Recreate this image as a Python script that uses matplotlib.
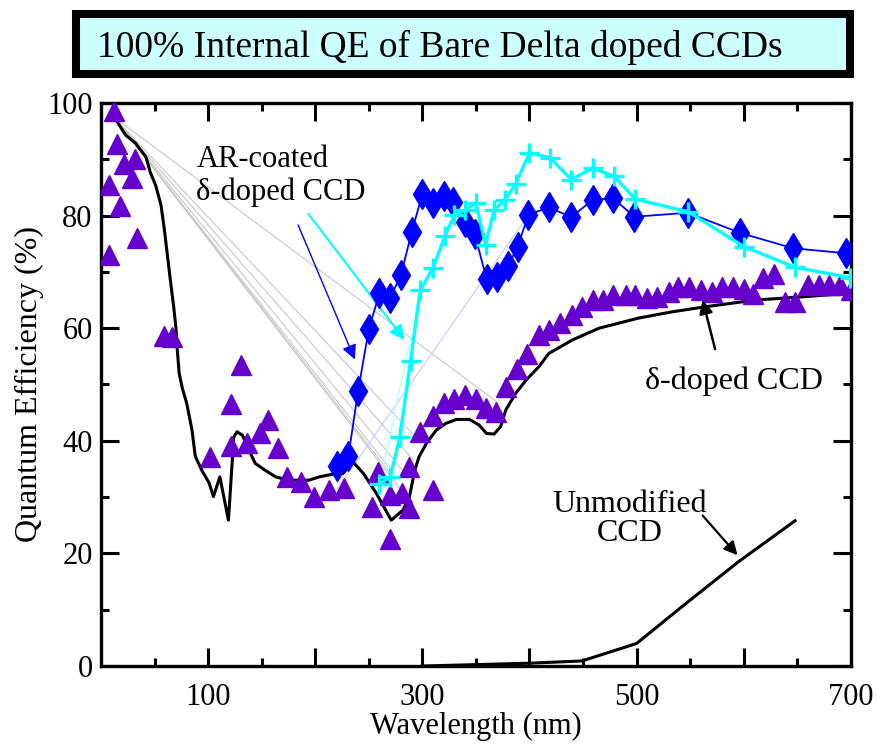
import numpy as np
import matplotlib
matplotlib.use('Agg')
import matplotlib.pyplot as plt
from matplotlib.patches import Rectangle
from matplotlib.ticker import FixedLocator, FuncFormatter

plt.rcParams['font.family'] = ['Liberation Serif', 'DejaVu Serif']

# AR-coated delta-doped CCD (blue diamonds)
ar_blue_x = [220, 231, 240, 250, 260, 270, 280, 290, 300, 310, 320, 329, 340, 349,
             360, 370, 380, 389, 399, 418, 439, 459, 478, 498, 548, 597, 646, 696]
ar_blue_y = [35.5, 37.3, 48.8, 59.8, 66.2, 65.4, 69.4, 77.0, 83.8, 82.3, 83.4, 82.5, 78.9, 76.7,
             68.7, 69.1, 71.0, 74.5, 80.1, 81.5, 79.7, 82.8, 83.1, 79.8, 80.5, 76.9, 74.2, 73.3]

# AR-coated delta-doped CCD (cyan crosses)
ar_cyan_x = [260, 270, 279, 289, 298, 310, 321, 330, 340, 350, 359, 367, 377, 387,
             400, 419, 439, 459, 479, 499, 548, 600, 648, 699]
ar_cyan_y = [32.3, 33.6, 40.6, 54.2, 66.7, 70.7, 76.3, 80.1, 81.0, 82.2, 74.8, 81.0, 82.7, 85.6,
             91.1, 90.3, 86.4, 88.4, 87.0, 82.9, 80.7, 74.5, 70.8, 69.0]

# 100% internal QE data (purple triangles)
tri_x = [12, 15, 32, 21.5, 29, 7.5, 17.5, 34, 7.5, 59, 66,
         102, 121, 121, 131, 136, 148, 156, 165, 174, 187, 199, 213, 227,
         253, 259, 270, 270, 281, 288, 288, 298, 310, 310, 320, 330, 340, 350, 359, 369,
         378, 388, 398, 409, 418, 429, 440, 449, 459, 469, 478, 490, 499, 510, 519,
         530, 539, 549, 560, 570, 580, 590, 600, 609, 618, 628, 639, 648, 660, 670,
         680, 690, 700]
tri_y = [98.5, 92.8, 90.0, 89.1, 86.7, 85.4, 81.7, 76.1, 73.0, 58.7, 58.4,
         37.2, 46.5, 39.1, 53.5, 39.6, 41.3, 43.7, 38.7, 33.6, 32.6, 30.0, 31.3, 31.7,
         28.3, 34.5, 30.4, 22.6, 30.7, 28.0, 35.4, 41.5, 31.3, 44.4, 46.8, 47.5, 48.1, 47.5, 45.8, 45.2,
         49.5, 52.8, 55.5, 58.8, 59.7, 60.9, 62.3, 63.8, 65.0, 65.0, 65.9, 65.9, 65.9, 65.3, 65.6,
         66.5, 67.4, 67.4, 66.8, 66.5, 67.4, 67.4, 66.9, 66.1, 68.9, 69.7, 64.7, 64.7, 67.7, 67.7,
         67.7, 67.7, 66.8]

# delta-doped CCD (black curve)
dd_x = [11, 14, 23, 32, 42, 46, 51, 56, 59, 62, 65, 68, 70, 71, 73, 76, 80, 85, 88,
        94, 101, 105, 111, 119, 124, 127, 132, 138, 144, 153, 163, 175, 194, 204, 217,
        226, 235, 245, 257, 271, 282, 288, 293, 297, 304, 313, 322, 332, 344, 353, 360,
        367, 373, 378, 387, 397, 409, 418, 440, 465, 502, 533, 564, 611, 657, 698]
dd_y = [98.5, 97.0, 94.3, 92.9, 90.4, 87.7, 85.4, 81.9, 77.8, 73.0, 68.2, 63.6, 60.0, 56.7, 52.0,
        49.3, 46.7, 41.9, 37.3, 34.8, 32.5, 30.1, 33.6, 25.9, 40.7, 41.6, 41.0, 38.4, 36.0,
        34.8, 33.6, 33.0, 33.0, 33.6, 34.1, 34.2, 36.3, 34.2, 30.7, 25.9, 27.7, 30.1, 34.8,
        37.2, 39.6, 41.9, 43.1, 43.8, 43.8, 42.8, 41.3, 41.2, 42.5, 45.5, 48.4, 50.8, 53.2,
        55.5, 57.9, 60.0, 61.8, 62.9, 63.8, 65.0, 65.6, 66.2]

# unmodified CCD
un_x = [300, 400, 449, 500, 546, 595, 648]
un_y = [0.0, 0.5, 0.9, 4.0, 11.1, 18.5, 25.8]

# grey leader lines fanning from the top-left corner
leader_x0, leader_y0 = 12, 97.5
leader_x1 = [268, 275, 281, 287, 292, 297, 369]
leader_y1 = [35.5, 33.0, 31.0, 33.5, 36.5, 40.0, 47.0]

fig = plt.figure(figsize=(8.78, 7.44), dpi=100)
ax = fig.add_axes([0.115, 0.1048, 0.854, 0.7568])

for xe, ye in zip(leader_x1, leader_y1):
    ax.plot([leader_x0, xe], [leader_y0, ye], color='#c8c8c8', lw=0.8, zorder=1)
ax.plot([ar_blue_x[0], ar_blue_x[18]], [31.3, ar_blue_y[18]], color='#c8c8ff', lw=0.8, zorder=1)
ax.plot([ar_cyan_x[0], ar_cyan_x[3]], [ar_cyan_y[0], ar_cyan_y[3] + 4], color='#b0ffff', lw=0.8, zorder=1)

ax.plot(dd_x, dd_y, color='black', lw=2.2, zorder=2)
ax.plot(un_x, un_y, color='black', lw=2.2, zorder=2)

ax.plot(tri_x, tri_y, linestyle='none', marker='^', markersize=14,
        color='#6600cc', markeredgecolor='#6600cc', zorder=3)

ax.plot(ar_blue_x, ar_blue_y, color='#0000ff', lw=1.3, marker='d', markersize=15,
        markeredgecolor='#0000ff', zorder=4)
ax.plot(ar_cyan_x, ar_cyan_y, color='#00ffff', lw=2.4, marker='+', markersize=14,
        markeredgewidth=2.4, zorder=5)

ax.set_xlim(0, 700)
ax.set_ylim(0, 100)

ax.xaxis.set_major_locator(FixedLocator([100, 200, 300, 400, 500, 600, 700]))
ax.xaxis.set_minor_locator(FixedLocator([50, 150, 250, 350, 450, 550, 650]))
ax.xaxis.set_major_formatter(FuncFormatter(lambda v, p: '%d' % v if int(v) % 200 == 100 else ''))
ax.yaxis.set_major_locator(FixedLocator([0, 20, 40, 60, 80, 100]))
ax.yaxis.set_minor_locator(FixedLocator([10, 30, 50, 70, 90]))

ax.tick_params(which='both', direction='in', top=True, right=True, width=2.2, labelsize=22)
ax.tick_params(which='major', length=13)
ax.tick_params(which='minor', length=6)
ax.tick_params(axis='x', pad=12)
ax.tick_params(axis='y', pad=6)
for s in ax.spines.values():
    s.set_linewidth(2.4)

ax.set_xlabel('Wavelength (nm)', fontsize=22, labelpad=0)
ax.set_ylabel('Quantum Efficiency (%)', fontsize=23, labelpad=2)

# annotations
ax.text(89, 82.8, 'AR-coated\n\u03b4-doped CCD', fontsize=22, va='baseline', ha='left',
        linespacing=1.15)
ax.annotate('', xy=(238, 54), xytext=(183, 78.8),
            arrowprops=dict(arrowstyle='-|>', color='#0000ff', lw=1.0, mutation_scale=22))
ax.annotate('', xy=(285, 57.5), xytext=(192, 80.7),
            arrowprops=dict(arrowstyle='-|>', color='#00ffff', lw=1.5, mutation_scale=22))

ax.text(507.5, 49.2, '\u03b4-doped CCD', fontsize=23, ha='left', va='baseline')
ax.annotate('', xy=(561, 65.5), xytext=(574, 55.8),
            arrowprops=dict(arrowstyle='-|>', color='black', lw=1.8, mutation_scale=20))

ax.text(494, 22.2, 'Unmodified\nCCD', fontsize=23, ha='center', va='baseline', linespacing=1.0)
ax.annotate('', xy=(596, 19.3), xytext=(560, 27.1),
            arrowprops=dict(arrowstyle='-|>', color='black', lw=1.6, mutation_scale=20))

# title box
fig.patches.append(Rectangle((0.0866, 0.9005), 0.8815, 0.0806, transform=fig.transFigure,
                             facecolor='#ccffff', edgecolor='black', linewidth=5.8, zorder=0))
fig.text(0.1105, 0.9238, '100% Internal QE of Bare Delta doped CCDs', fontsize=27,
         ha='left', va='baseline')

fig.savefig('out.png', dpi=100)
